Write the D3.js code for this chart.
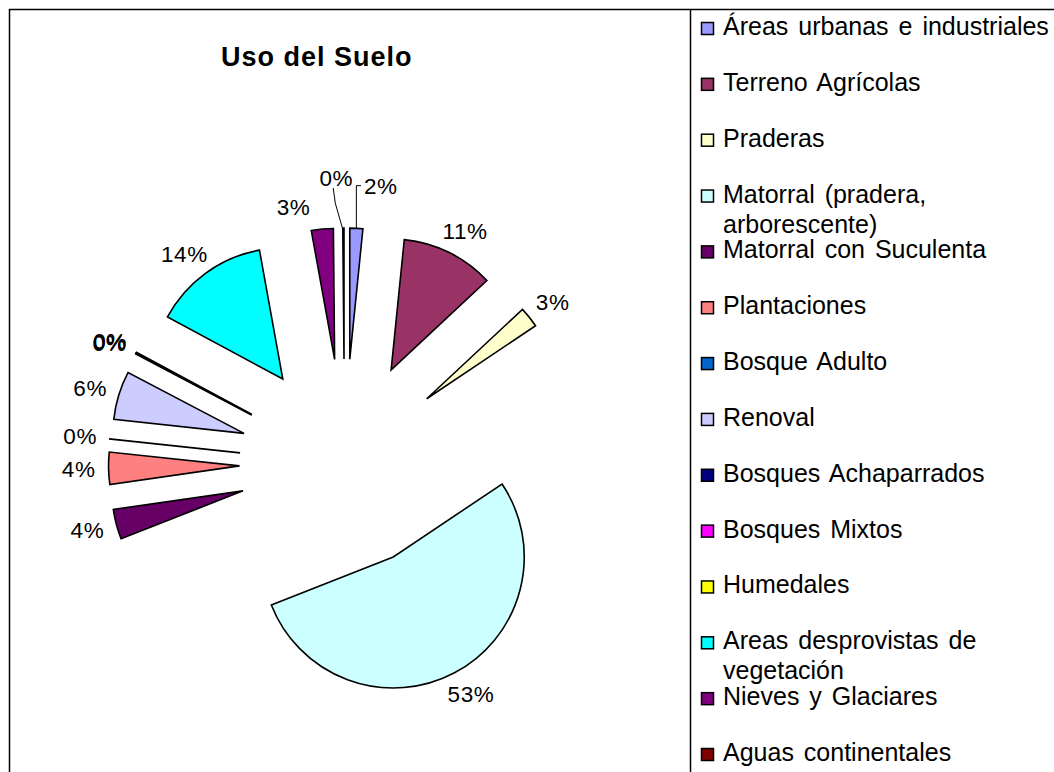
<!DOCTYPE html>
<html><head><meta charset="utf-8">
<script src="https://cdn.jsdelivr.net/npm/d3@7"></script>
<style>body{margin:0;background:#fff} svg{display:block;font-family:"Liberation Sans",Arial,sans-serif}</style>
</head><body>
<svg id="c" width="1054" height="772"></svg>
<script>
const title = "Uso del Suelo";
const categories = [
  "Áreas urbanas e industriales",
  "Terreno Agrícolas",
  "Praderas",
  "Matorral (pradera, arborescente)",
  "Matorral con Suculenta",
  "Plantaciones",
  "Bosque Adulto",
  "Renoval",
  "Bosques Achaparrados",
  "Bosques Mixtos",
  "Humedales",
  "Areas desprovistas de vegetación",
  "Nieves y Glaciares",
  "Aguas continentales"
];
// percent shares
const values = [1.6, 11.45, 2.55, 53.45, 3.7, 3.95, 0.02, 6.0, 0.05, 0.05, 0.05, 14.3, 2.7, 0.15];
const colors = ["#9999FF","#993366","#FFFFCC","#CCFFFF","#660066","#FF8080","#0066CC",
                "#CCCCFF","#000080","#FF00FF","#FFFF00","#00FFFF","#800080","#800000"];

const W = 1054, H = 772;
const svg = d3.select("#c");

// frame
svg.append("line").attr("x1",9).attr("y1",9.5).attr("x2",W).attr("y2",9.5).attr("stroke","#000").attr("stroke-width",1.5);
svg.append("line").attr("x1",9.5).attr("y1",9).attr("x2",9.5).attr("y2",H).attr("stroke","#000").attr("stroke-width",1.5);
svg.append("line").attr("x1",690.5).attr("y1",9).attr("x2",690.5).attr("y2",H).attr("stroke","#000").attr("stroke-width",1.5);

// title
svg.append("text").attr("x",221).attr("y",66).attr("font-size",27).attr("font-weight","bold")
  .attr("letter-spacing",1).attr("fill","#000").text(title);

// pie
const cx = 344.5, cy = 464, R = 131, explode = 105, gap = 13;
const data = categories.map((c,i)=>({c, v: values[i], col: colors[i], i}));
const total = d3.sum(values);
const arcs = d3.pie().sort(null).value(d=>d.v)(data);
const arc = d3.arc().innerRadius(0).outerRadius(R);
const dirOf = a => [Math.sin(a), -Math.cos(a)];
const mid = d => (d.startAngle + d.endAngle) / 2;

const g = svg.append("g").attr("transform", `translate(${cx},${cy})`);
g.selectAll("path.slice").data(arcs).join("path").attr("class","slice")
  .attr("transform", d => { const [x,y] = dirOf(mid(d)); return `translate(${x*explode},${y*explode})`; })
  .attr("d", arc)
  .attr("fill", d => d.data.col)
  .attr("stroke", "#000").attr("stroke-width", 1.6).attr("stroke-linejoin","miter");

// data labels (some moved by hand in the original, with leader lines)
const moved = {0: {dx: 23, dy: -19, leader: "elbow"}, 13: {dx: -7, dy: -26, leader: "straight"}, 12: {dx: -26, dy: 2}};
const fs = 22.5;
arcs.forEach(d => {
  const a = mid(d), [ux,uy] = dirOf(a);
  const t = g.append("text").attr("font-size", fs).attr("letter-spacing", 0.6).attr("fill","#000")
    .attr("text-anchor","middle").attr("dy","0.35em")
    .text(Math.round(d.data.v / total * 100) + "%");
  const w = t.node().getComputedTextLength(), h = fs * 0.95;
  const rr = explode + R + gap;
  let x = ux*rr + ux*w/2, y = uy*rr + uy*h/2;
  const m = moved[d.data.i];
  if (m) { x += m.dx; y += m.dy; }
  t.attr("x", x).attr("y", y);
  if (m && m.leader) {
    const ox = ux*(explode+R), oy = uy*(explode+R);
    let pts;
    if (m.leader === "elbow") pts = [[x - w/2 - 3, y], [ox, y], [ox, oy]];
    else pts = [[x - 3, y + h/2 - 1], [x - 1, y + h/2 + 14], [ox - 1, oy]];
    g.append("path").attr("d", d3.line()(pts)).attr("fill","none").attr("stroke","#000").attr("stroke-width",1);
  }
});

// legend
const ly = d3.scalePoint().domain(categories).range([35, 761]);
const leg = svg.append("g");
const maxW = 335, lineH = 30;
categories.forEach((c, i) => {
  const y = ly(c);
  leg.append("rect").attr("x",701.5).attr("y",y-12.5).attr("width",12).attr("height",12)
    .attr("fill",colors[i]).attr("stroke","#000").attr("stroke-width",1.5);
  const t = leg.append("text").attr("x",723).attr("y",y).attr("font-size",25).attr("word-spacing",3).attr("fill","#000");
  const words = c.split(" ");
  let line = [], tsp = t.append("tspan").attr("x",723).attr("y",y), ln = 0;
  words.forEach(wd => {
    line.push(wd); tsp.text(line.join(" "));
    if (tsp.node().getComputedTextLength() > maxW && line.length > 1) {
      line.pop(); tsp.text(line.join(" "));
      line = [wd]; ln++;
      tsp = t.append("tspan").attr("x",723).attr("y", y + ln*lineH).text(wd);
    }
  });
});
</script>
</body></html>
